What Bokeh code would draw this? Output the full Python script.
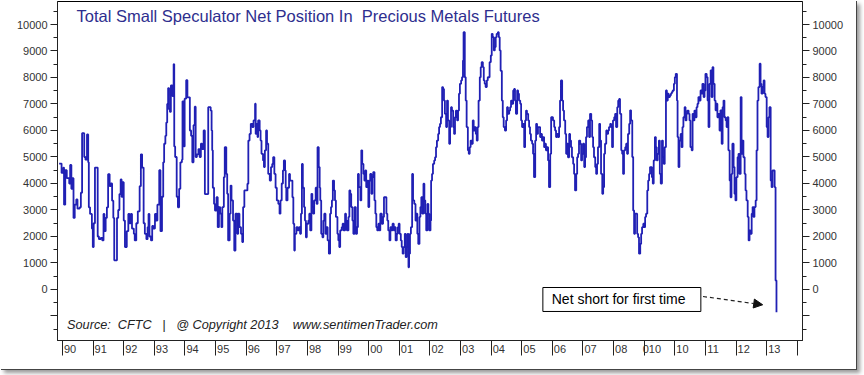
from bokeh.plotting import figure
from bokeh.models import (Range1d, LinearAxis, FixedTicker, Label, BoxAnnotation,
                          Arrow, NormalHead)
from bokeh.embed import file_html
from bokeh.resources import INLINE

# ---- data (decimal year of each weekly report, net position in contracts) ----
report_date = [
    1989.89, 1989.97, 1990.03, 1990.05, 1990.09, 1990.14, 1990.22, 1990.25, 1990.29, 1990.33, 1990.36, 1990.40,
    1990.45, 1990.49, 1990.56, 1990.60, 1990.64, 1990.71, 1990.75, 1990.80, 1990.84, 1990.86, 1990.90, 1990.96, 1990.99,
    1991.02, 1991.06, 1991.15, 1991.19, 1991.25, 1991.30, 1991.34, 1991.37, 1991.41, 1991.45, 1991.49, 1991.54,
    1991.58, 1991.62, 1991.66, 1991.69, 1991.78, 1991.82, 1991.86, 1991.90, 1991.93, 1991.96,
    1992.00, 1992.04, 1992.10, 1992.15, 1992.19, 1992.23, 1992.27, 1992.33, 1992.36, 1992.41, 1992.46, 1992.52,
    1992.56, 1992.60, 1992.65, 1992.69, 1992.74, 1992.78, 1992.81, 1992.84, 1992.89, 1992.93, 1992.97,
    1993.02, 1993.06, 1993.10, 1993.16, 1993.20, 1993.25, 1993.29, 1993.32, 1993.36, 1993.39, 1993.42, 1993.45, 1993.48, 1993.51,
    1993.54, 1993.59, 1993.63, 1993.65, 1993.68, 1993.73, 1993.77, 1993.81, 1993.85, 1993.90, 1993.92, 1993.96, 1993.99,
    1994.04, 1994.08, 1994.16, 1994.20, 1994.24, 1994.28, 1994.32, 1994.35, 1994.39, 1994.44, 1994.48, 1994.52,
    1994.56, 1994.61, 1994.65, 1994.76, 1994.84, 1994.87, 1994.89, 1994.91, 1994.95, 1994.98,
    1995.03, 1995.07, 1995.11, 1995.15, 1995.19, 1995.22, 1995.27, 1995.30, 1995.35, 1995.38, 1995.41, 1995.46,
    1995.49, 1995.52, 1995.57, 1995.61, 1995.65, 1995.71, 1995.74, 1995.78, 1995.83, 1995.87, 1995.90, 1995.94,
    1996.04, 1996.07, 1996.11, 1996.15, 1996.20, 1996.24, 1996.29, 1996.31, 1996.34, 1996.37, 1996.39, 1996.44,
    1996.47, 1996.50, 1996.55, 1996.58, 1996.61, 1996.65, 1996.68, 1996.72, 1996.77, 1996.81, 1996.85, 1996.88, 1996.92, 1996.96,
    1997.00, 1997.05, 1997.09, 1997.12, 1997.16, 1997.20, 1997.23, 1997.27, 1997.29, 1997.31, 1997.35, 1997.40, 1997.43,
    1997.51, 1997.54, 1997.57, 1997.59, 1997.64, 1997.68, 1997.72, 1997.76, 1997.79, 1997.82, 1997.85, 1997.89, 1997.92, 1997.95, 1997.98,
    1998.03, 1998.06, 1998.09, 1998.13, 1998.16, 1998.19, 1998.22, 1998.27, 1998.30, 1998.33, 1998.37, 1998.40, 1998.42,
    1998.45, 1998.49, 1998.52, 1998.55, 1998.59, 1998.63, 1998.66, 1998.70, 1998.74, 1998.77, 1998.80, 1998.83, 1998.87, 1998.90, 1998.93, 1998.98,
    1999.01, 1999.04, 1999.07, 1999.12, 1999.15, 1999.18, 1999.23, 1999.26, 1999.29, 1999.34, 1999.37, 1999.40, 1999.43, 1999.47, 1999.50,
    1999.54, 1999.58, 1999.62, 1999.65, 1999.68, 1999.73, 1999.76, 1999.79, 1999.83, 1999.86, 1999.89, 1999.92, 1999.96, 1999.99,
    2000.02, 2000.05, 2000.09, 2000.12, 2000.15, 2000.19, 2000.22, 2000.25, 2000.28, 2000.32, 2000.35, 2000.38, 2000.43, 2000.47, 2000.50,
    2000.58, 2000.61, 2000.64, 2000.68, 2000.71, 2000.74, 2000.78, 2000.82, 2000.85, 2000.88, 2000.92, 2000.95, 2000.98,
    2001.01, 2001.05, 2001.08, 2001.11, 2001.14, 2001.18, 2001.21, 2001.24, 2001.27, 2001.30, 2001.32, 2001.35, 2001.38, 2001.42, 2001.45, 2001.49,
    2001.53, 2001.56, 2001.59, 2001.62, 2001.66, 2001.69, 2001.72, 2001.75, 2001.79, 2001.82, 2001.85, 2001.88, 2001.92, 2001.95, 2001.98,
    2002.02, 2002.04, 2002.07, 2002.10, 2002.14, 2002.17, 2002.20, 2002.23, 2002.27, 2002.30, 2002.33, 2002.36, 2002.40, 2002.43, 2002.46, 2002.49,
    2002.53, 2002.56, 2002.59, 2002.63, 2002.66, 2002.69, 2002.72, 2002.76, 2002.79, 2002.82, 2002.85, 2002.89, 2002.92, 2002.95, 2002.98,
    2003.02, 2003.05, 2003.08, 2003.10, 2003.14, 2003.17, 2003.20, 2003.24, 2003.27, 2003.30, 2003.33, 2003.37, 2003.40, 2003.43, 2003.46, 2003.50,
    2003.53, 2003.56, 2003.59, 2003.63, 2003.66, 2003.69, 2003.73, 2003.76, 2003.79, 2003.82, 2003.86, 2003.89, 2003.92, 2003.95, 2003.99,
    2004.02, 2004.05, 2004.09, 2004.12, 2004.15, 2004.18, 2004.22, 2004.25, 2004.28, 2004.31, 2004.35, 2004.38, 2004.41, 2004.45, 2004.49,
    2004.52, 2004.55, 2004.59, 2004.62, 2004.65, 2004.68, 2004.72, 2004.75, 2004.78, 2004.81, 2004.85, 2004.88, 2004.91, 2004.95, 2004.98,
    2005.01, 2005.04, 2005.08, 2005.11, 2005.14, 2005.17, 2005.21, 2005.24, 2005.27, 2005.30, 2005.34, 2005.37, 2005.40, 2005.44, 2005.47, 2005.50,
    2005.53, 2005.60, 2005.63, 2005.66, 2005.70, 2005.73, 2005.76, 2005.79, 2005.83, 2005.86, 2005.89, 2005.93, 2005.96,
    2006.02, 2006.06, 2006.09, 2006.12, 2006.16, 2006.19, 2006.22, 2006.25, 2006.28, 2006.32, 2006.35, 2006.38, 2006.42, 2006.45, 2006.48, 2006.51,
    2006.55, 2006.58, 2006.61, 2006.64, 2006.68, 2006.71, 2006.74, 2006.78, 2006.81, 2006.84, 2006.87, 2006.91, 2006.94, 2006.97,
    2007.00, 2007.04, 2007.07, 2007.10, 2007.13, 2007.17, 2007.20, 2007.23, 2007.27, 2007.30, 2007.33, 2007.36, 2007.40, 2007.43, 2007.46, 2007.49,
    2007.53, 2007.56, 2007.59, 2007.63, 2007.66, 2007.69, 2007.72, 2007.76, 2007.79, 2007.82, 2007.85, 2007.89, 2007.92, 2007.95, 2007.98,
    2008.02, 2008.05, 2008.08, 2008.12, 2008.15, 2008.18, 2008.21, 2008.25, 2008.28, 2008.31, 2008.34, 2008.38, 2008.41, 2008.44, 2008.47, 2008.51,
    2008.54, 2008.57, 2008.61, 2008.64, 2008.67, 2008.70, 2008.77, 2008.80, 2008.83, 2008.87, 2008.90, 2008.93, 2008.97,
    2009.00, 2009.03, 2009.06, 2009.10, 2009.13, 2009.16, 2009.19, 2009.25, 2009.28, 2009.31, 2009.35, 2009.38, 2009.41, 2009.44, 2009.48,
    2009.51, 2009.54, 2009.58, 2009.61, 2009.64, 2009.67, 2009.71, 2009.74, 2009.77, 2009.80, 2009.84, 2009.87, 2009.90, 2009.93, 2009.97,
    2010.00, 2010.03, 2010.07, 2010.09, 2010.12, 2010.15, 2010.19, 2010.22, 2010.25, 2010.28, 2010.32, 2010.35, 2010.38, 2010.41, 2010.45, 2010.48,
    2010.51, 2010.55, 2010.58, 2010.61, 2010.64, 2010.68, 2010.71, 2010.74, 2010.77, 2010.81, 2010.84, 2010.87, 2010.90, 2010.94, 2010.97,
    2011.00, 2011.04, 2011.07, 2011.10, 2011.13, 2011.17, 2011.20, 2011.23, 2011.26, 2011.30, 2011.33, 2011.36, 2011.39, 2011.43, 2011.46, 2011.49,
    2011.53, 2011.56, 2011.59, 2011.62, 2011.66, 2011.69, 2011.72, 2011.75, 2011.79, 2011.82, 2011.85, 2011.88, 2011.92, 2011.95, 2011.98,
    2012.01, 2012.05, 2012.08, 2012.11, 2012.15, 2012.18, 2012.21, 2012.24, 2012.28, 2012.31, 2012.34, 2012.38, 2012.41, 2012.44, 2012.47, 2012.51,
    2012.54, 2012.57, 2012.60, 2012.64, 2012.67, 2012.70, 2012.73, 2012.77, 2012.80, 2012.83, 2012.87, 2012.90, 2012.93, 2012.96,
    2013.00, 2013.03, 2013.06, 2013.09, 2013.13, 2013.16, 2013.19, 2013.22, 2013.26, 2013.29, 2013.32,
]

net_position = [
    4750, 4400, 4600, 3200, 4500, 4200, 4000, 4700, 3800, 4200, 2700, 3200,
    3400, 3050, 3100, 3650, 5900, 5000, 4900, 5850, 4800, 3100, 2850, 2300, 1600,
    2500, 4600, 2000, 1900, 1950, 1850, 2850, 2200, 2700, 3100, 4350, 3900,
    4000, 3350, 2700, 1100, 2700, 3000, 3600, 4150, 3500, 4050,
    2600, 1600, 2200, 2850, 2500, 2850, 2300, 2100, 1850, 2500, 2950, 3900,
    5100, 4600, 2500, 2100, 1900, 2350, 2850, 2000, 1850, 2400, 2300,
    2850, 2600, 3200, 4500, 2200, 3500, 4800, 5500, 5800, 6300, 7000, 7600, 6800, 6700,
    7700, 7300, 8500, 5400, 5000, 3500, 3100, 3800, 4800, 4900, 7100, 5400, 7200,
    7900, 7250, 6000, 5800, 4800, 6200, 6900, 5000, 5100, 5300, 5000, 5500,
    5300, 6000, 3600, 6880, 6750, 6000, 5250, 3840, 3230, 2980,
    3480, 2350, 3110, 2860, 2350, 3110, 4240, 5370, 4360, 3610, 1850, 2860,
    3920, 3360, 2600, 1470, 2860, 2100, 2860, 2350, 2100, 1790, 3110, 3740,
    3990, 5620, 5870, 6250, 6130, 6380, 7010, 5870, 6250, 5750, 6380, 6000,
    5620, 5120, 4870, 4620, 5250, 6000, 5500, 4360, 4110, 4620, 4740, 4990, 4360, 3840,
    3360, 3230, 2860, 3360, 4000, 4490, 4870, 4490, 3840, 3360, 3840, 4360, 4110,
    3480, 2480, 1470, 2100, 2350, 2230, 2350, 2100, 2860, 4740, 3840, 3110, 2600, 1970, 2480,
    2600, 2860, 2230, 3610, 3110, 2860, 3360, 3840, 3230, 5370, 4620, 3840, 3360,
    2100, 1970, 2600, 2860, 2100, 2350, 1850, 1350, 2860, 3110, 3360, 4110, 3740, 3360, 2740, 2100,
    1850, 1600, 2230, 2350, 2480, 2230, 2860, 2600, 2230, 2740, 3740, 3610, 3110, 2600, 2100,
    3110, 2100, 2350, 4360, 3860, 3360, 5250, 4740, 4360, 4110, 4490, 3860, 4110, 3110,
    4110, 4360, 3610, 4240, 4430, 3360, 2860, 2350, 2230, 2480, 2230, 2860, 2480, 2740, 3480,
    2860, 2600, 2230, 1850, 2350, 2230, 2480, 2230, 2350, 1850, 2100, 2350, 2480,
    2100, 1850, 1600, 1350, 1600, 2100, 1220, 1600, 2100, 840, 1350, 2100, 2350, 4360, 3360, 3230,
    2600, 2860, 2100, 1720, 2740, 3110, 3480, 2860, 3990, 3360, 2860, 2230, 3230, 2860, 2230,
    2600, 4110, 4360, 4740, 4870, 4990, 5370, 5620, 5870, 6130, 6250, 6500, 7640, 7570, 7130, 6630,
    6130, 7130, 6380, 5500, 6130, 6880, 6750, 6130, 5870, 6500, 6750, 6380, 6750, 7390, 7760,
    7890, 8010, 8640, 9710, 8010, 7130, 6130, 5250, 5120, 5370, 5620, 5500, 6380, 6000, 6130, 5870,
    5620, 6130, 7130, 8010, 8390, 8580, 8390, 7890, 7760, 7640, 7890, 8010, 8010, 8580, 8830,
    9650, 9520, 9020, 9150, 9520, 9650, 9710, 9520, 9020, 8250, 7130, 6500, 6130, 6000, 6380,
    6880, 6630, 6750, 6880, 7130, 7010, 7510, 7570, 7130, 6630, 7510, 7390, 7130, 7010, 6380,
    6130, 6250, 5370, 6380, 6750, 6630, 6380, 6130, 5870, 5620, 5500, 5120, 4240, 5620, 6250, 5870,
    6130, 5750, 5870, 5620, 5750, 5370, 5500, 5250, 5370, 4870, 3860, 5120, 6500,
    6380, 6130, 6000, 5750, 5870, 5750, 6130, 7130, 7890, 7130, 6750, 6380, 5870, 5120, 5500, 4990,
    5870, 5620, 5370, 4990, 4740, 4360, 3740, 4360, 4990, 5120, 5620, 5500, 4870, 5120,
    5500, 4620, 4990, 5750, 6130, 6380, 5750, 6630, 6380, 5750, 5370, 4990, 4620, 4360, 4740, 5370,
    6250, 5620, 4360, 3610, 3860, 5120, 5500, 6000, 5870, 6000, 6130, 6250, 6130, 5370, 6380,
    6500, 6630, 6130, 6880, 7130, 7190, 6630, 5250, 5120, 4360, 5250, 5370, 5500, 5120, 5870, 6250,
    6760, 6380, 5000, 2980, 2100, 2860, 2100, 1970, 1350, 1720, 2100, 2350, 2480,
    2350, 2740, 2860, 3740, 4110, 4360, 4620, 4240, 4000, 4870, 5750, 5370, 4870, 5120, 5620,
    4360, 4000, 5620, 5000, 4740, 5370, 7510, 7130, 7390, 7260, 7320, 7390, 7450, 7510, 7760,
    8010, 8140, 7130, 5750, 4620, 5620, 5870, 5370, 6130, 6500, 6880, 6380, 6630, 6750, 6630, 6380,
    5370, 5250, 6630, 6380, 6750, 6500, 6880, 7010, 7260, 7130, 7510, 7390, 7760, 7260, 7510,
    8140, 8010, 7130, 6130, 7760, 8270, 7260, 8390, 7760, 7130, 6760, 7010, 6500, 6630, 6000, 6760,
    5500, 6880, 7130, 6500, 6380, 6130, 6500, 5250, 4110, 3480, 4360, 5500, 4620, 3610, 3360,
    4240, 4990, 5120, 4360, 7260, 5120, 5620, 4990, 4360, 3740, 3360, 2740, 1850, 2230, 2100, 2860,
    3110, 2740, 3110, 3360, 5250, 7130, 7640, 8520, 7760, 7390, 7640, 7890, 7390, 7260,
    6130, 5750, 6500, 6880, 4110, 3860, 4490, 4490, 3860, 340, -860,
]

year_ticks = list(range(1990, 2015))
year_labels = ["90", "91", "92", "93", "94", "95", "96", "97", "98", "99",
               "00", "01", "02", "03", "04", "05", "06", "07", "08", "010",
               "10", "11", "12", "13", ""]
value_ticks = list(range(-1000, 10001, 1000))
value_minor_ticks = list(range(-1500, 10501, 500))
value_labels = ["" if v < 0 else str(v) for v in value_ticks]

title_text = "Total Small Speculator Net Position In\u00a0 Precious Metals Futures"
source_text = "Source:\u00a0 CFTC\u00a0\u00a0 |\u00a0\u00a0 @ Copyright 2013\u00a0\u00a0\u00a0 www.sentimenTrader.com"
note_text = "Net short for first time"

n = min(len(report_date), len(net_position))
xs, ys = report_date[:n], net_position[:n]

FONT = "Liberation Sans"
AXIS_COLOR = "#333333"

p = figure(width=856, height=369,
           x_range=Range1d(1989.837, 2014.17), y_range=Range1d(-1925, 10868),
           output_backend="svg", toolbar_location=None,
           min_border_left=57, min_border_right=54, min_border_top=1, min_border_bottom=29)
p.background_fill_color = "white"
p.border_fill_color = "white"
p.outline_line_color = "black"
p.outline_line_width = 1
p.xgrid.grid_line_color = None
p.ygrid.grid_line_color = None
p.styles = {"box-shadow": "1px 1px 0px #444, 4px 4px 4px #999"}

p.step(xs, ys, mode="after", line_color="#2020b4", line_width=1.8)

# y axes (left + right)
right_axis = LinearAxis()
p.add_layout(right_axis, "right")
for ax in (p.yaxis[0], right_axis):
    ax.ticker = FixedTicker(ticks=value_ticks, minor_ticks=value_minor_ticks)
    ax.major_label_overrides = {t: lab for t, lab in zip(value_ticks, value_labels)}
    ax.major_tick_out = 7
    ax.major_tick_in = 0
    ax.minor_tick_out = 4
    ax.minor_tick_in = 0
    ax.major_label_standoff = 3
    ax.major_label_text_font = FONT
    ax.major_label_text_font_size = "11px"
    ax.major_label_text_color = AXIS_COLOR
    ax.axis_line_color = "#222222"
    ax.major_tick_line_color = "#222222"
    ax.minor_tick_line_color = "#222222"

# x axis: tick bar to the left of each year label
xa = p.xaxis[0]
xa.ticker = FixedTicker(ticks=year_ticks)
xa.major_label_overrides = {t: ("\u00a0" * 5 + lab if lab else "")
                            for t, lab in zip(year_ticks, year_labels)}
xa.major_tick_out = 15
xa.major_tick_in = 0
xa.major_label_standoff = -13
xa.major_label_text_font = FONT
xa.major_label_text_font_size = "11px"
xa.major_label_text_color = AXIS_COLOR
xa.axis_line_color = "#222222"
xa.major_tick_line_color = "#222222"
xa.minor_tick_line_color = None

# title and source inside the frame
p.add_layout(Label(x=1990.46, y=10302, text=title_text, text_font=FONT,
                   text_font_size="16.5px", text_color="#2e2e8e", text_baseline="middle"))
p.add_layout(Label(x=1990.15, y=-1358, text=source_text, text_font=FONT,
                   text_font_size="12.7px", text_font_style="italic", text_color="#222222",
                   text_baseline="middle"))

# annotation box + dashed arrow
p.add_layout(BoxAnnotation(left=2005.69, right=2010.85, top=75, bottom=-830,
                           fill_color="white", fill_alpha=1.0,
                           line_color="black", line_width=1, line_alpha=1.0))
p.add_layout(Label(x=2005.98, y=-377, text=note_text, text_font=FONT,
                   text_font_size="14px", text_color="black", text_baseline="middle"))
p.add_layout(Arrow(x_start=2010.92, y_start=-264, x_end=2012.87, y_end=-577,
                   line_color="#222222", line_width=1.2, line_dash="4 3",
                   end=NormalHead(size=9, fill_color="#111111", line_color="#111111",
                                  line_dash="solid")))

open("out.html", "w").write(file_html(p, INLINE))
